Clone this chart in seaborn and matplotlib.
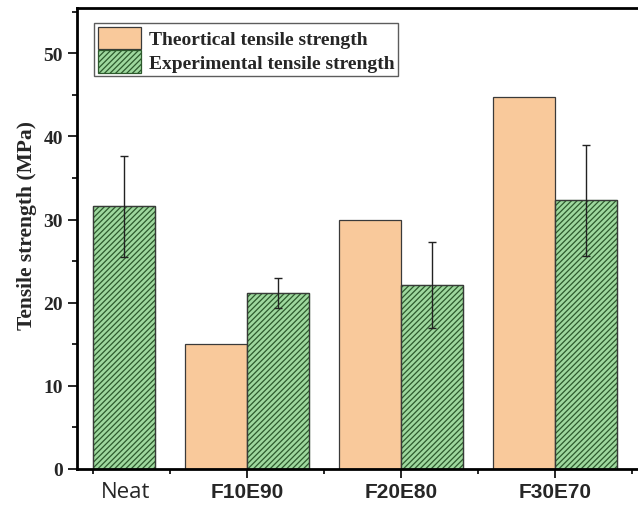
import pandas as pd
import numpy as np
import seaborn as sns
import matplotlib.pyplot as plt
from matplotlib.ticker import MultipleLocator, FixedLocator

# values
samples = ['Neat', 'F10E90', 'F20E80', 'F30E70']
theoretical = [np.nan, 15.0, 29.9, 44.7]
experimental = [31.6, 21.2, 22.1, 32.3]
exp_err = [6.1, 1.8, 5.2, 6.7]
series = ['Theortical tensile strength', 'Experimental tensile strength']

data = pd.DataFrame({
    'sample': samples * 2,
    'kind': [series[0]] * 4 + [series[1]] * 4,
    'strength': theoretical + experimental,
})

sns.set_style('ticks')
plt.rcParams['hatch.linewidth'] = 0.9

fig = plt.figure(figsize=(6.38, 5.06), dpi=100)
ax = fig.add_axes([77 / 638, 36 / 506, 583 / 638, 461 / 506])

sns.barplot(data=data, x='sample', y='strength', hue='kind', order=samples,
            hue_order=series, palette=['#f9c99b', '#9ed89e'], width=0.8,
            edgecolor='#3a3a3a', linewidth=0.9, errorbar=None, saturation=1,
            ax=ax)

# hatch the experimental bars and add error bars
green = ax.containers[1]
for p in green:
    p.set_hatch('//////')
    p.set_edgecolor('#2d5a2d')
    p.set_linewidth(0.9)
xs = [p.get_x() + p.get_width() / 2 for p in green]
ax.errorbar(xs, experimental, yerr=exp_err, fmt='none', ecolor='#222222',
            elinewidth=1.0, capsize=3, capthick=1.0)
# outline over the hatch edges
for p in green:
    ax.add_patch(plt.Rectangle((p.get_x(), 0), p.get_width(), p.get_height(),
                               fill=False, edgecolor='#3a3a3a', linewidth=0.9,
                               zorder=p.get_zorder() + 0.1))

ax.set_xlim(-0.104, 3.682)
ax.set_ylim(0, 55.45)

ax.yaxis.set_major_locator(MultipleLocator(10))
ax.yaxis.set_minor_locator(MultipleLocator(5))
ax.xaxis.set_major_locator(FixedLocator([1, 2, 3]))
ax.xaxis.set_minor_locator(FixedLocator([0, 0.5, 1.5, 2.5, 3.5]))
ax.set_xticklabels(samples[1:], fontfamily='Liberation Sans', fontweight='bold',
                   fontsize=15)
ax.text(0.21, -0.026, 'Neat', transform=ax.get_xaxis_transform(),
        ha='center', va='top', fontsize=16, fontfamily='Open Sans')

for lab in ax.get_yticklabels():
    lab.set_fontfamily('Liberation Serif')
    lab.set_fontweight('bold')
    lab.set_fontsize(14)

ax.tick_params(axis='both', which='major', length=6.5, width=1.2, direction='out',
               color='black')
ax.tick_params(axis='both', which='minor', length=3.5, width=1.2, direction='out',
               color='black')
ax.tick_params(axis='x', which='major', pad=3)

ax.set_xlabel('')
ax.set_ylabel('Tensile strength (MPa)', fontfamily='Liberation Serif',
              fontweight='bold', fontsize=15.5)
ax.yaxis.set_label_coords(-0.068, 0.531)

for side in ['left', 'bottom', 'top']:
    ax.spines[side].set_linewidth(2)
    ax.spines[side].set_color('black')
ax.spines['right'].set_visible(False)

handles, labels = ax.get_legend_handles_labels()
handles[1].set_hatch('//////')
handles[1].set_edgecolor('#2d5a2d')
leg = ax.legend(handles, labels, loc='upper left', bbox_to_anchor=(0.03, 0.968),
                frameon=True, fancybox=False, edgecolor='#333333',
                prop={'family': 'Liberation Serif', 'weight': 'bold', 'size': 14},
                handlelength=2.2, handleheight=1.4, labelspacing=0.05,
                borderpad=0.2, handletextpad=0.4, borderaxespad=0)
leg.get_frame().set_linewidth(1.0)

fig.savefig('out.png', dpi=100)
